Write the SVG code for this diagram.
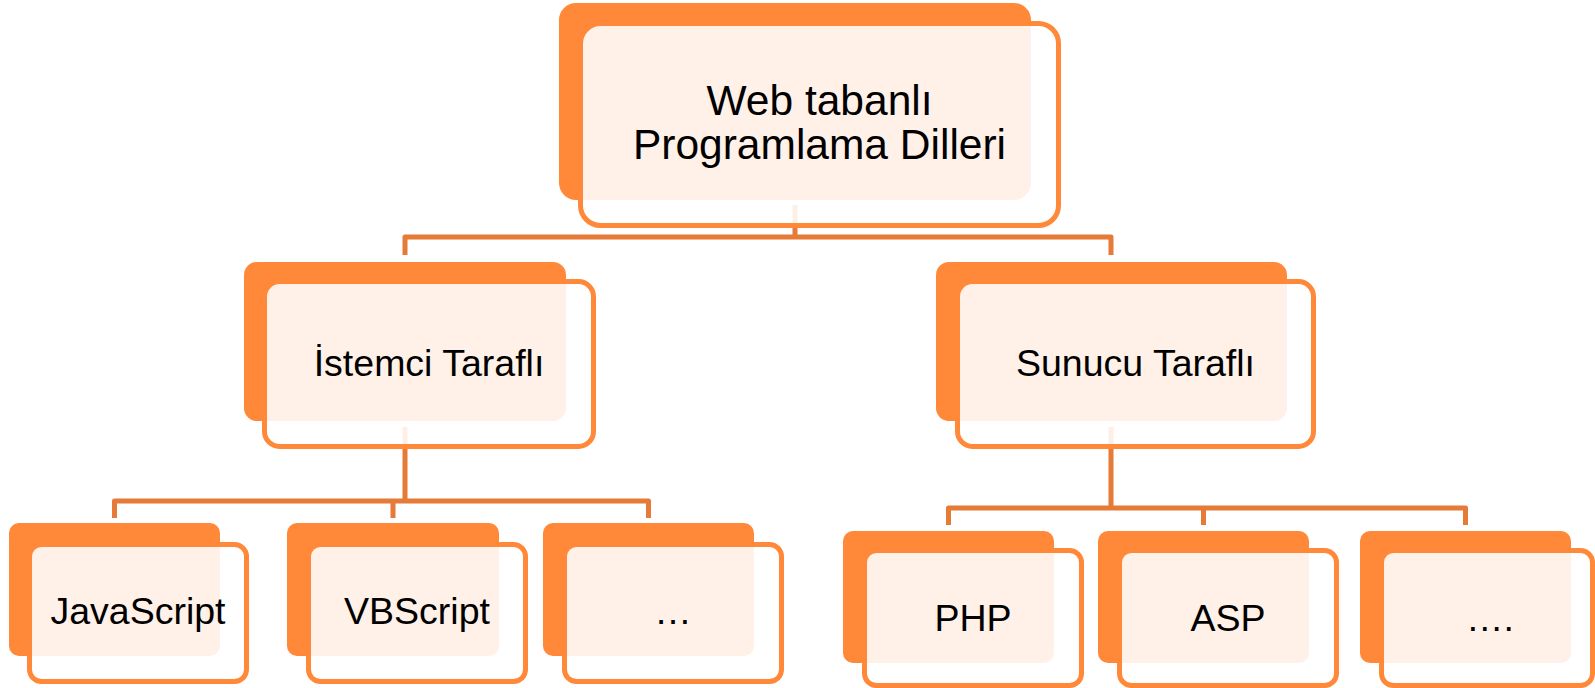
<svg xmlns="http://www.w3.org/2000/svg" width="1595" height="688" viewBox="0 0 1595 688">
<style>
.back{fill:#FF8839}
.front{fill:#FFFFFF;fill-opacity:0.88;stroke:#FF8839;stroke-width:5}
.conn{fill:none;stroke:#E67A37;stroke-width:5;stroke-linejoin:round}
.lbl{font-family:"Liberation Sans",Arial,sans-serif;fill:#000000;text-anchor:middle}
.l1{font-size:42.5px}
.l2{font-size:37.5px}
</style>
<rect width="1595" height="688" fill="#FFFFFF"/>
<g id="connectors">
<path class="conn" d="M795 205 V237 M405 255 V237 H1111 V255"/>
<path class="conn" d="M405 427 V501 M114.5 518 V501 H648.5 V518 M393 501 V518"/>
<path class="conn" d="M1111 427 V508 M948.5 525 V508 H1465.5 V525 M1203.5 508 V525"/>
</g>
<g id="node-root">
<rect class="back" x="559" y="3" width="472" height="197" rx="17"/>
<rect class="front" x="580.5" y="23.5" width="478" height="202" rx="20"/>
<text class="lbl l1" x="819.5" y="115">Web tabanlı</text>
<text class="lbl l1" x="819.5" y="159">Programlama Dilleri</text>
</g>
<g id="node-istemci">
<rect class="back" x="244" y="262" width="322" height="159" rx="13"/>
<rect class="front" x="264.5" y="281.5" width="329" height="165" rx="15"/>
<text class="lbl l2" x="429" y="376">İstemci Taraflı</text>
</g>
<g id="node-sunucu">
<rect class="back" x="936" y="262" width="351" height="159" rx="13"/>
<rect class="front" x="957.5" y="281.5" width="356" height="165" rx="15"/>
<text class="lbl l2" x="1135.5" y="376">Sunucu Taraflı</text>
</g>
<g id="node-javascript">
<rect class="back" x="9" y="523" width="211" height="133" rx="10"/>
<rect class="front" x="29.5" y="544.5" width="217" height="137" rx="12"/>
<text class="lbl l2" x="138" y="624">JavaScript</text>
</g>
<g id="node-vbscript">
<rect class="back" x="287" y="523" width="212" height="133" rx="10"/>
<rect class="front" x="308.5" y="544.5" width="217" height="137" rx="12"/>
<text class="lbl l2" x="417" y="624">VBScript</text>
</g>
<g id="node-etc1">
<rect class="back" x="543" y="523" width="211" height="133" rx="10"/>
<rect class="front" x="564.5" y="544.5" width="217" height="137" rx="12"/>
<text class="lbl l2" x="673" y="624">…</text>
</g>
<g id="node-php">
<rect class="back" x="843" y="531" width="211" height="132" rx="10"/>
<rect class="front" x="864.5" y="550.5" width="217" height="135" rx="12"/>
<text class="lbl l2" x="973" y="631">PHP</text>
</g>
<g id="node-asp">
<rect class="back" x="1098" y="531" width="211" height="132" rx="10"/>
<rect class="front" x="1119.5" y="550.5" width="217" height="135" rx="12"/>
<text class="lbl l2" x="1228" y="631">ASP</text>
</g>
<g id="node-etc2">
<rect class="back" x="1360" y="531" width="211" height="132" rx="10"/>
<rect class="front" x="1381.5" y="550.5" width="211" height="135" rx="12"/>
<text class="lbl l2" x="1490" y="631">….</text>
</g>
</svg>
